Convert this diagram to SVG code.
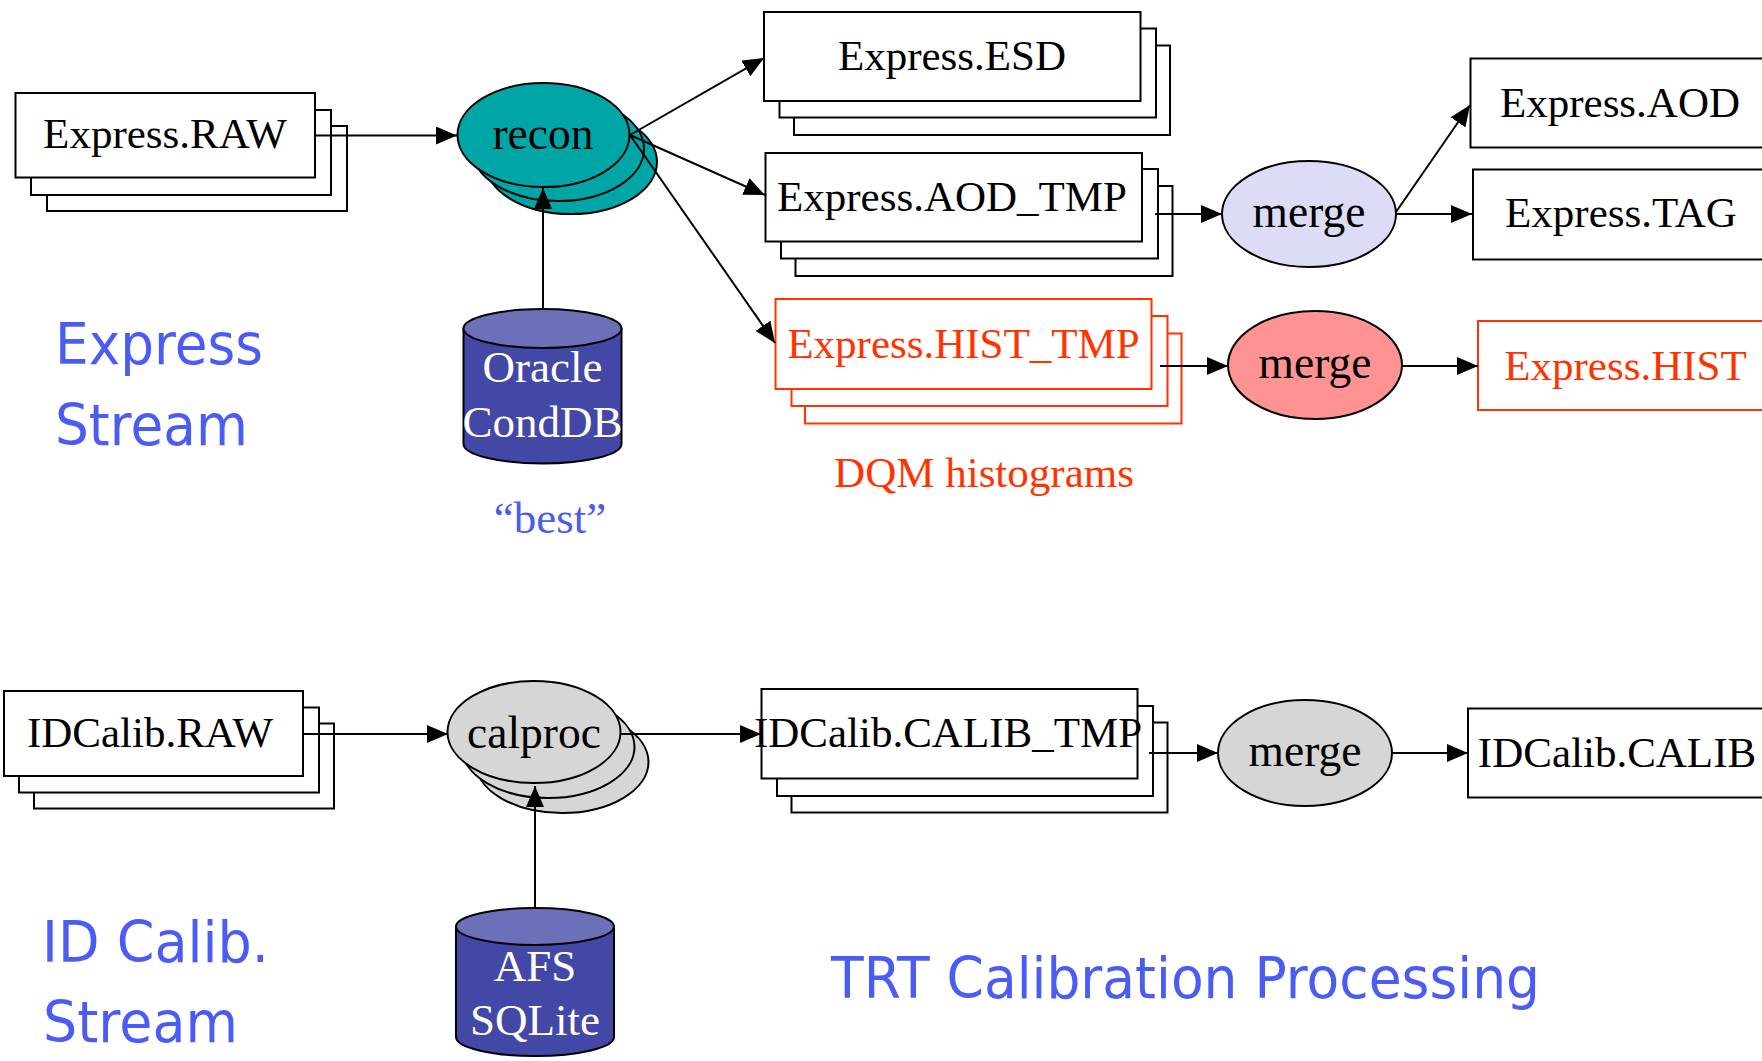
<svg xmlns="http://www.w3.org/2000/svg" width="1762" height="1061" viewBox="0 0 1762 1061">
<defs>
<style>
.box{fill:#fff;stroke:#000;stroke-width:2}
.rbox{fill:#fff;stroke:#ff3300;stroke-width:2}
.lbl{font-family:"Liberation Serif","Times New Roman",serif;font-size:43px;fill:#000;text-anchor:middle}
.rlbl{font-family:"Liberation Serif","Times New Roman",serif;font-size:43px;fill:#ff3300;text-anchor:middle}
.elbl{font-family:"Liberation Serif","Times New Roman",serif;font-size:45.5px;fill:#000;text-anchor:middle}
.dblbl{font-family:"Liberation Serif","Times New Roman",serif;font-size:45px;fill:#fff;text-anchor:middle}
.ell{stroke:#000;stroke-width:2}
.teal{fill:#00a6a6}
.gray{fill:#d6d6d6}
.lav{fill:#dcdcf6}
.sal{fill:#ff9393}
.dbbody{fill:#4347a6;stroke:#000;stroke-width:2}
.dbtop{fill:#6c70b8;stroke:#000;stroke-width:2}
.comic{font-family:"DejaVu Sans",sans-serif;font-size:57px;fill:#4b5cf5}
.edge{stroke:#000;stroke-width:2;fill:none;marker-end:url(#arr)}
</style>
<marker id="arr" viewBox="0 0 21 18" markerWidth="21" markerHeight="18" refX="21" refY="9" orient="auto" markerUnits="userSpaceOnUse">
<path d="M0,0 L21,9 L0,18 z" fill="#000"/>
</marker>
</defs>
<rect width="1762" height="1061" fill="#fff"/>

<g id="express-raw">
<rect class="box" x="47" y="126" width="300" height="85"/>
<rect class="box" x="31" y="110" width="300" height="85"/>
<rect class="box" x="15.5" y="93" width="299.5" height="84.5"/>
<text class="lbl" x="165" y="148">Express.RAW</text>
</g>

<g id="recon">
<ellipse class="ell teal" cx="571" cy="162" rx="86" ry="52"/>
<ellipse class="ell teal" cx="558" cy="149" rx="86" ry="52"/>
<ellipse class="ell teal" cx="543.5" cy="135" rx="86" ry="52"/>
<text class="elbl" x="543" y="149">recon</text>
</g>

<g id="oracle-conddb">
<path class="dbbody" d="M463.5,328.5 L463.5,444 A79,19.5 0 0 0 621.5,444 L621.5,328.5 Z"/>
<ellipse class="dbtop" cx="542.5" cy="328.5" rx="79" ry="19.5"/>
<text class="dblbl" x="542.5" y="382">Oracle</text>
<text class="dblbl" x="542.5" y="437">CondDB</text>
</g>
<text id="best" x="550" y="533" font-family="Liberation Serif, serif" font-size="45" fill="#4a5cf0" text-anchor="middle">“best”</text>

<g id="express-esd">
<rect class="box" x="794" y="45.5" width="376" height="89.5"/>
<rect class="box" x="779.5" y="28.5" width="376.5" height="89"/>
<rect class="box" x="764" y="12" width="376.5" height="89"/>
<text class="lbl" x="952" y="70">Express.ESD</text>
</g>

<g id="express-aod-tmp">
<rect class="box" x="795.5" y="186" width="377" height="90"/>
<rect class="box" x="781" y="169" width="377" height="89.5"/>
<rect class="box" x="765.5" y="153" width="376.5" height="88.5"/>
<text class="lbl" x="952" y="211">Express.AOD_TMP</text>
</g>

<g id="merge-aod">
<ellipse class="ell lav" cx="1309" cy="214" rx="87" ry="53"/>
<text class="elbl" x="1309" y="227">merge</text>
</g>

<g id="express-aod">
<rect class="box" x="1470.5" y="58.5" width="300" height="89"/>
<text class="lbl" x="1620" y="117">Express.AOD</text>
</g>

<g id="express-tag">
<rect class="box" x="1473" y="169.5" width="300" height="90"/>
<text class="lbl" x="1621" y="227">Express.TAG</text>
</g>

<g id="express-hist-tmp">
<rect class="rbox" x="805" y="333.5" width="376.5" height="90"/>
<rect class="rbox" x="791.5" y="316" width="376" height="90"/>
<rect class="rbox" x="775.5" y="299" width="376" height="90"/>
<text class="rlbl" x="963.5" y="358">Express.HIST_TMP</text>
</g>
<text id="dqm" class="rlbl" x="984" y="487">DQM histograms</text>

<g id="merge-hist">
<ellipse class="ell sal" cx="1315" cy="365" rx="87" ry="54"/>
<text class="elbl" x="1315" y="378">merge</text>
</g>

<g id="express-hist">
<rect class="rbox" x="1478" y="321" width="300" height="89"/>
<text class="rlbl" x="1625.5" y="380">Express.HIST</text>
</g>

<g id="idcalib-raw">
<rect class="box" x="34" y="723.5" width="300" height="85"/>
<rect class="box" x="19" y="707.5" width="300" height="85"/>
<rect class="box" x="4" y="691" width="299" height="85"/>
<text class="lbl" x="150" y="747">IDCalib.RAW</text>
</g>

<g id="calproc">
<ellipse class="ell gray" cx="562" cy="762" rx="86.5" ry="51"/>
<ellipse class="ell gray" cx="548" cy="747" rx="86.5" ry="51"/>
<ellipse class="ell gray" cx="534" cy="732" rx="86.5" ry="51"/>
<text class="elbl" x="534" y="748">calproc</text>
</g>

<g id="afs-sqlite">
<path class="dbbody" d="M456,926.5 L456,1037 A79,19 0 0 0 614,1037 L614,926.5 Z"/>
<ellipse class="dbtop" cx="535" cy="926.5" rx="79" ry="18.5"/>
<text class="dblbl" x="535" y="981">AFS</text>
<text class="dblbl" x="535" y="1035">SQLite</text>
</g>

<g id="idcalib-calib-tmp">
<rect class="box" x="791.5" y="722.5" width="376" height="90"/>
<rect class="box" x="777" y="706" width="376" height="90"/>
<rect class="box" x="761.5" y="689" width="376" height="89.5"/>
<text class="lbl" x="948" y="747">IDCalib.CALIB_TMP</text>
</g>

<g id="merge-calib">
<ellipse class="ell gray" cx="1305" cy="753" rx="87" ry="53"/>
<text class="elbl" x="1305" y="766">merge</text>
</g>

<g id="idcalib-calib">
<rect class="box" x="1468" y="708.5" width="310" height="89"/>
<text class="lbl" x="1617" y="767">IDCalib.CALIB</text>
</g>

<g id="labels">
<text class="comic" x="55" y="364" textLength="208" lengthAdjust="spacingAndGlyphs">Express</text>
<text class="comic" x="55" y="445" textLength="193" lengthAdjust="spacingAndGlyphs">Stream</text>
<text class="comic" x="42" y="962" textLength="227" lengthAdjust="spacingAndGlyphs">ID Calib.</text>
<text class="comic" x="43" y="1042" textLength="195" lengthAdjust="spacingAndGlyphs">Stream</text>
<text class="comic" x="831" y="998" textLength="709" lengthAdjust="spacingAndGlyphs">TRT Calibration Processing</text>
</g>

<g id="connectors">
<line class="edge" x1="315" y1="135.5" x2="457" y2="135.5"/>
<line class="edge" x1="630" y1="135" x2="764" y2="58"/>
<line class="edge" x1="630" y1="135" x2="765" y2="195"/>
<line class="edge" x1="630" y1="135" x2="775" y2="343"/>
<line class="edge" x1="543" y1="309" x2="543" y2="188"/>
<line class="edge" x1="1155" y1="214" x2="1222" y2="214"/>
<line class="edge" x1="1396" y1="212" x2="1470" y2="105"/>
<line class="edge" x1="1396" y1="214" x2="1472" y2="214"/>
<line class="edge" x1="1160" y1="366" x2="1228" y2="366"/>
<line class="edge" x1="1402" y1="366" x2="1478" y2="366"/>
<line class="edge" x1="303" y1="734" x2="448" y2="734"/>
<line class="edge" x1="620" y1="734" x2="761" y2="734"/>
<line class="edge" x1="535" y1="908" x2="535" y2="786"/>
<line class="edge" x1="1149" y1="753" x2="1218" y2="753"/>
<line class="edge" x1="1392" y1="753" x2="1468" y2="753"/>
</g>
</svg>
